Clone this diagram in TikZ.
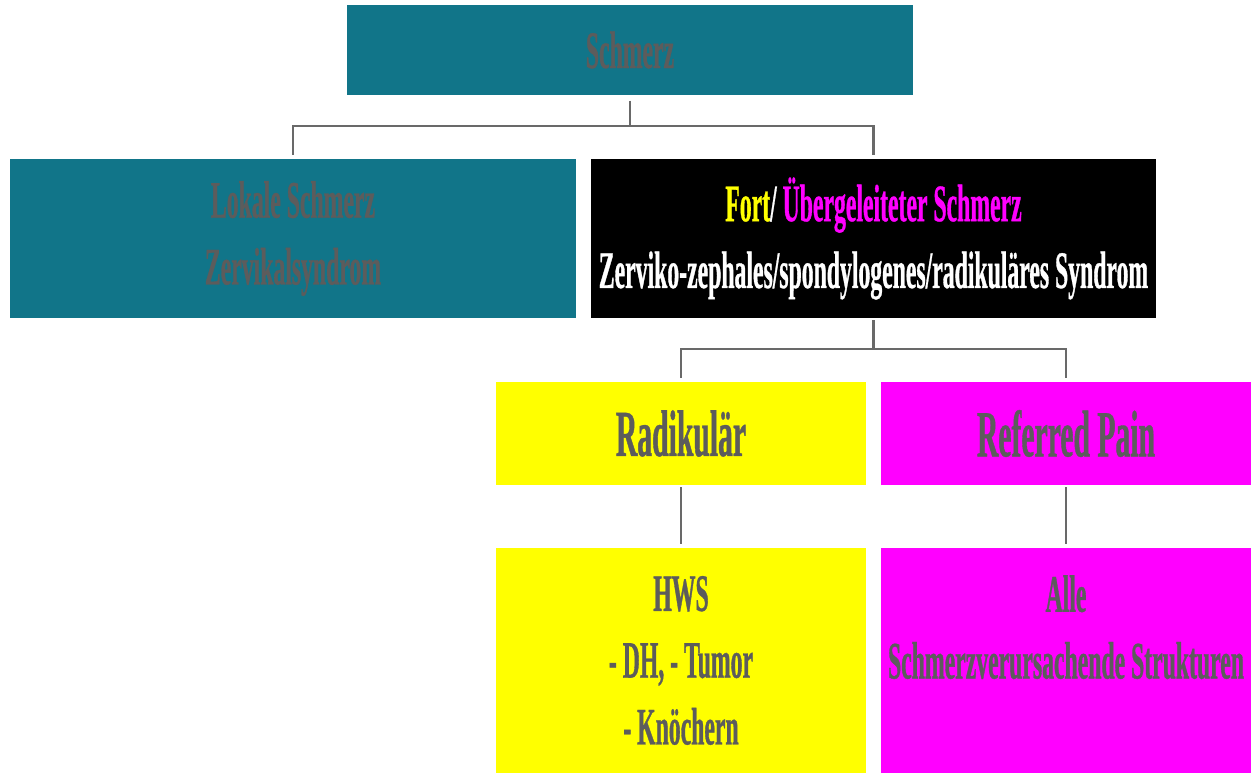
\documentclass[tikz,border=0pt]{standalone}
\usepackage{fontspec}
\newfontfamily\condfont{Liberation Serif}[FakeStretch=0.45, FakeBold=0.6]
\definecolor{boxteal}{RGB}{17,117,137}
\definecolor{txtgray}{RGB}{92,92,92}
\definecolor{linegray}{RGB}{105,105,105}
\definecolor{gelb}{RGB}{255,255,0}
\definecolor{hotpink}{RGB}{255,0,255}

\begin{document}
\begin{tikzpicture}[x=0.02cm, y=-0.02cm,
    box/.style={rectangle, inner sep=0pt, align=center, text=txtgray,
      font=\condfont\bfseries\fontsize{30}{38}\selectfont},
    wide/.style={box, minimum width=11.32cm},
    half/.style={box, minimum width=7.4cm},
    big/.style={font=\condfont\bfseries\fontsize{37.5}{44}\selectfont},
    link/.style={draw=linegray, line width=1.2pt}]

  \useasboundingbox (0,0) rectangle (1253,773);

  \node[wide, fill=boxteal, minimum height=1.8cm]  (schmerz) at (630,50)   {Schmerz};
  \node[wide, fill=boxteal, minimum height=3.18cm] (lokal)   at (293,238.5) {Lokale Schmerz\\Zervikalsyndrom};
  \node[wide, fill=black, text=white, minimum height=3.18cm] (fort) at (873.5,238.5)
    {\textcolor{gelb}{Fort}/ \textcolor{hotpink}{Übergeleiteter Schmerz}\\Zerviko-zephales/spondylogenes/radikuläres Syndrom};

  \node[half, big, fill=gelb,    minimum height=2.06cm] (radi) at (681,433.5)  {Radikulär};
  \node[half, big, fill=hotpink, minimum height=2.06cm] (ref)  at (1066,433.5) {Referred Pain};

  \node[half, fill=gelb,    minimum height=4.5cm] (hws)  at (681,660.5)  {HWS\\- DH, - Tumor\\- Knöchern};
  \node[half, fill=hotpink, minimum height=4.5cm] (alle) at (1066,660.5) {Alle\\Schmerzverursachende Strukturen\\\phantom{- Knöchern}};

  % Verbindungen
  \path[link, shorten <=3pt, shorten >=2pt] (schmerz.south) -- ++(0,31) -| (lokal.north);
  \path[link, shorten >=2pt] (schmerz.south) ++(0,31) -| (fort.north);
  \path[link, shorten <=1pt, shorten >=2pt] (fort.south) -- ++(0,31) -| (radi.north);
  \path[link, shorten >=2pt] (fort.south) ++(0,31) -| (ref.north);
  \path[link, shorten <=1pt, shorten >=2pt] (radi.south) -- (hws.north);
  \path[link, shorten <=1pt, shorten >=2pt] (ref.south) -- (alle.north);

\end{tikzpicture}
\end{document}
